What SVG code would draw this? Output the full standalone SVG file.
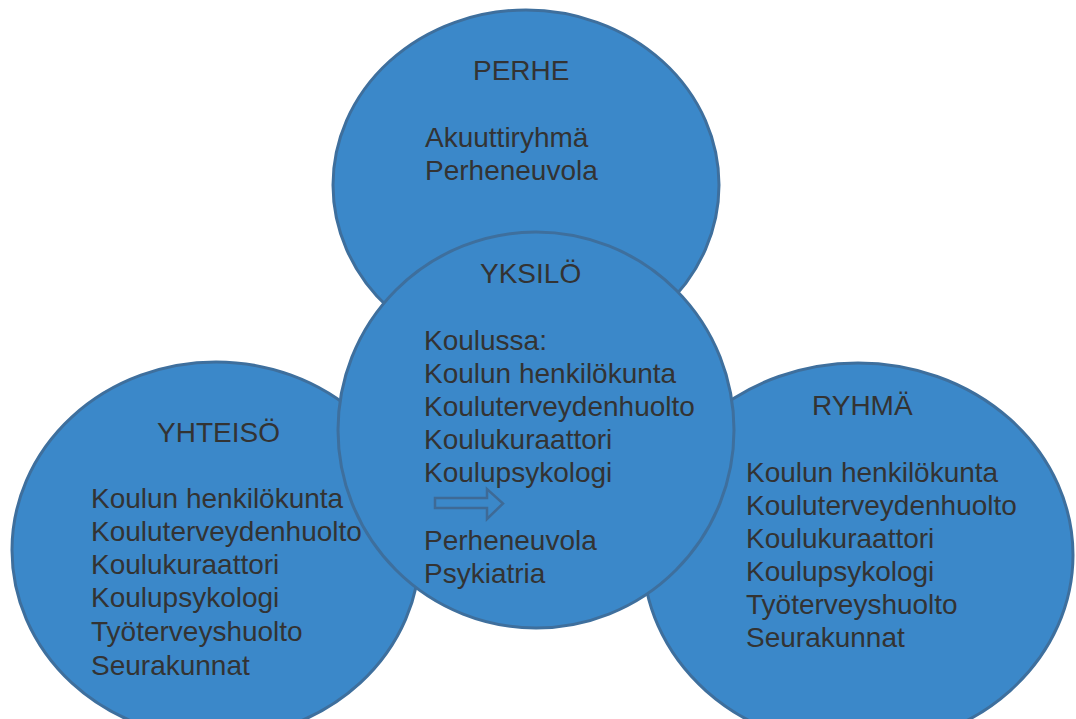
<svg xmlns="http://www.w3.org/2000/svg" width="1076" height="719" viewBox="0 0 1076 719">
  <style>
    .bub { fill: #3b88c9; stroke: #3e6f9d; stroke-width: 3; }
    .t { font-family: "Liberation Sans", Arial, sans-serif; font-size: 28px; fill: #333333; }
    .arr { fill: #3b88c9; stroke: #3e6a96; stroke-width: 2.5; stroke-linejoin: miter; }
  </style>
  <rect width="1076" height="719" fill="#ffffff"/>

  <g id="perhe">
    <ellipse class="bub" cx="526" cy="185" rx="193" ry="175"/>
  </g>
  <g id="yhteiso">
    <ellipse class="bub" cx="216" cy="550" rx="204" ry="188"/>
  </g>
  <g id="ryhma">
    <ellipse class="bub" cx="858" cy="555" rx="215" ry="192"/>
  </g>
  <g id="yksilo">
    <circle class="bub" cx="536" cy="430" r="198"/>
  </g>

  <g id="connectors">
    <path class="arr" d="M435,498 L487,498 L487,489 L503,503.5 L487,519 L487,508 L435,508 Z"/>
  </g>

  <g id="perhe-text" class="t">
    <text x="473" y="80">PERHE</text>
    <text x="425" y="147">Akuuttiryhmä</text>
    <text x="425" y="180">Perheneuvola</text>
  </g>
  <g id="yksilo-text" class="t">
    <text x="480" y="283">YKSILÖ</text>
    <text x="424" y="350">Koulussa:</text>
    <text x="424" y="383">Koulun henkilökunta</text>
    <text x="424" y="416">Kouluterveydenhuolto</text>
    <text x="424" y="449">Koulukuraattori</text>
    <text x="424" y="482">Koulupsykologi</text>
    <text x="424" y="550">Perheneuvola</text>
    <text x="424" y="583">Psykiatria</text>
  </g>
  <g id="yhteiso-text" class="t">
    <text x="157" y="442">YHTEISÖ</text>
    <text x="91" y="508">Koulun henkilökunta</text>
    <text x="91" y="541">Kouluterveydenhuolto</text>
    <text x="91" y="574">Koulukuraattori</text>
    <text x="91" y="607">Koulupsykologi</text>
    <text x="91" y="641">Työterveyshuolto</text>
    <text x="91" y="675">Seurakunnat</text>
  </g>
  <g id="ryhma-text" class="t">
    <text x="812" y="415">RYHMÄ</text>
    <text x="746" y="482">Koulun henkilökunta</text>
    <text x="746" y="515">Kouluterveydenhuolto</text>
    <text x="746" y="548">Koulukuraattori</text>
    <text x="746" y="581">Koulupsykologi</text>
    <text x="746" y="614">Työterveyshuolto</text>
    <text x="746" y="647">Seurakunnat</text>
  </g>
</svg>
